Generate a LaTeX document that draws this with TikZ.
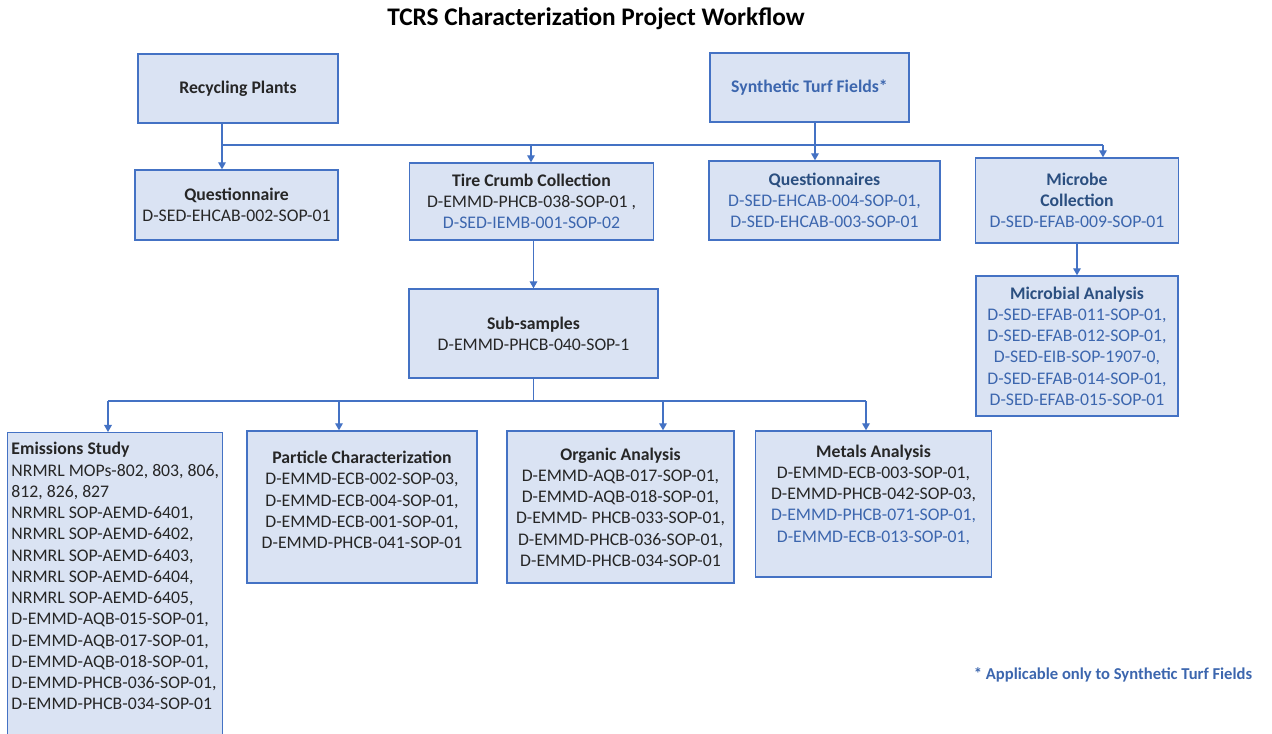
\documentclass[tikz,border=0pt]{standalone}
\usepackage{fontspec}
\setmainfont{Carlito}
\usetikzlibrary{arrows.meta}
\definecolor{boxfill}{HTML}{DAE3F3}
\definecolor{boxline}{HTML}{4472C4}
\definecolor{txtblue}{HTML}{3C66AE}
\definecolor{hdblue}{HTML}{2B4F80}
\definecolor{txtblack}{HTML}{262626}
\newcommand{\bluehead}[1]{\textcolor{hdblue}{\textbf{#1}}}
\frenchspacing

\begin{document}
\begin{tikzpicture}[x=0.025cm,y=-0.025cm,
   box/.style={draw=boxline,fill=boxfill,line width=1pt,align=center,inner sep=2pt,
     text=txtblack,font=\fontsize{12.6}{15.1}\selectfont},
   link/.style={draw=boxline,line width=0.75pt},
   arr/.style={link,-{Triangle[length=5pt,width=5.5pt]}}]
   \useasboundingbox (0,0) rectangle (1272,733);

   \node (title) at (596,19) {\fontsize{18}{21}\selectfont\bfseries TCRS Characterization Project Workflow};

   \node[box,minimum width=5cm,minimum height=1.725cm] (rp) at (238,88.5) {\textbf{Recycling Plants}};
   \node[box,minimum width=4.975cm,minimum height=1.725cm,text=txtblue] (stf) at (809.5,87.5) {\textbf{Synthetic Turf Fields*}};

   \node[box,minimum width=5.075cm,minimum height=1.75cm] (q) at (236.5,205)
     {\textbf{Questionnaire}\\D-SED-EHCAB-002-SOP-01};
   \node[box,minimum width=6.1cm,minimum height=1.925cm] (tcc) at (531.5,201.5)
     {\textbf{Tire Crumb Collection}\\D-EMMD-PHCB-038-SOP-01 ,\\\textcolor{txtblue}{D-SED-IEMB-001-SOP-02}};
   \node[box,minimum width=5.775cm,minimum height=1.975cm,text=txtblue] (qs) at (824.5,200.5)
     {\bluehead{Questionnaires}\\D-SED-EHCAB-004-SOP-01,\\D-SED-EHCAB-003-SOP-01};
   \node[box,minimum width=5.075cm,minimum height=2.125cm,text=txtblue] (mc) at (1077,200.5)
     {\bluehead{Microbe}\\\bluehead{Collection}\\D-SED-EFAB-009-SOP-01};
   \node[box,minimum width=5.05cm,minimum height=3.5cm,text=txtblue] (ma) at (1077,346)
     {\bluehead{Microbial Analysis}\\D-SED-EFAB-011-SOP-01,\\D-SED-EFAB-012-SOP-01,\\D-SED-EIB-SOP-1907-0,\\D-SED-EFAB-014-SOP-01,\\D-SED-EFAB-015-SOP-01};

   \node[box,minimum width=6.225cm,minimum height=2.225cm] (ss) at (533.5,333.5)
     {\textbf{Sub-samples}\\D-EMMD-PHCB-040-SOP-1};

   \node[box,anchor=north west,minimum width=5.375cm,align=left,inner xsep=2pt,inner ysep=7pt] (es) at (7,432)
     {\textbf{Emissions Study}\\NRMRL MOPs-802, 803, 806,\\812, 826, 827\\NRMRL SOP-AEMD-6401,\\NRMRL SOP-AEMD-6402,\\NRMRL SOP-AEMD-6403,\\NRMRL SOP-AEMD-6404,\\NRMRL SOP-AEMD-6405,\\D-EMMD-AQB-015-SOP-01,\\D-EMMD-AQB-017-SOP-01,\\D-EMMD-AQB-018-SOP-01,\\D-EMMD-PHCB-036-SOP-01,\\D-EMMD-PHCB-034-SOP-01\\[20pt]\mbox{}};
   \node[box,minimum width=5.75cm,minimum height=3.8cm] (pc) at (362,507)
     {\textbf{Particle Characterization}\\D-EMMD-ECB-002-SOP-03,\\D-EMMD-ECB-004-SOP-01,\\D-EMMD-ECB-001-SOP-01,\\D-EMMD-PHCB-041-SOP-01\\[-5pt]\mbox{}};
   \node[box,minimum width=5.675cm,minimum height=3.8cm] (oa) at (620.5,507)
     {\textbf{Organic Analysis}\\D-EMMD-AQB-017-SOP-01,\\D-EMMD-AQB-018-SOP-01,\\D-EMMD- PHCB-033-SOP-01,\\D-EMMD-PHCB-036-SOP-01,\\D-EMMD-PHCB-034-SOP-01};
   \node[box,minimum width=5.9cm,minimum height=3.65cm] (mt) at (873.5,504)
     {\textbf{Metals Analysis}\\D-EMMD-ECB-003-SOP-01,\\D-EMMD-PHCB-042-SOP-03,\\\textcolor{txtblue}{D-EMMD-PHCB-071-SOP-01,}\\\textcolor{txtblue}{D-EMMD-ECB-013-SOP-01,}\\\mbox{}};

   \node (note) at (1113,675) {\fontsize{11.8}{14}\selectfont\bfseries\color{txtblue}* Applicable only to Synthetic Turf Fields};

   \coordinate (ja) at (222,145);
   \coordinate (jb) at (531,145);
   \coordinate (jc) at (815,145);
   \coordinate (jd) at (1103,145);
   \draw[link] (ja) -- (jd);
   \draw[link] (rp.south -| ja) -- (ja);
   \draw[link] (stf.south -| jc) -- (jc);
   \draw[arr] (ja) -- (q.north -| ja);
   \draw[arr] (jb) -- (tcc.north -| jb);
   \draw[arr] (jc) -- (qs.north -| jc);
   \draw[arr] (jd) -- (mc.north -| jd);
   \draw[arr] (mc.south) -- (mc.south |- ma.north);
   \draw[arr] (ss.north |- tcc.south) -- (ss.north);

   \coordinate (ka) at (108,401);
   \coordinate (kb) at (339,401);
   \coordinate (kc) at (663,401);
   \coordinate (kd) at (866,401);
   \draw[link] (ka) -- (kd);
   \draw[link] (ss.south) -- (ss.south |- ka);
   \draw[arr] (ka) -- (es.north -| ka);
   \draw[arr] (kb) -- (pc.north -| kb);
   \draw[arr] (kc) -- (oa.north -| kc);
   \draw[arr] (kd) -- (mt.north -| kd);
\end{tikzpicture}
\end{document}
